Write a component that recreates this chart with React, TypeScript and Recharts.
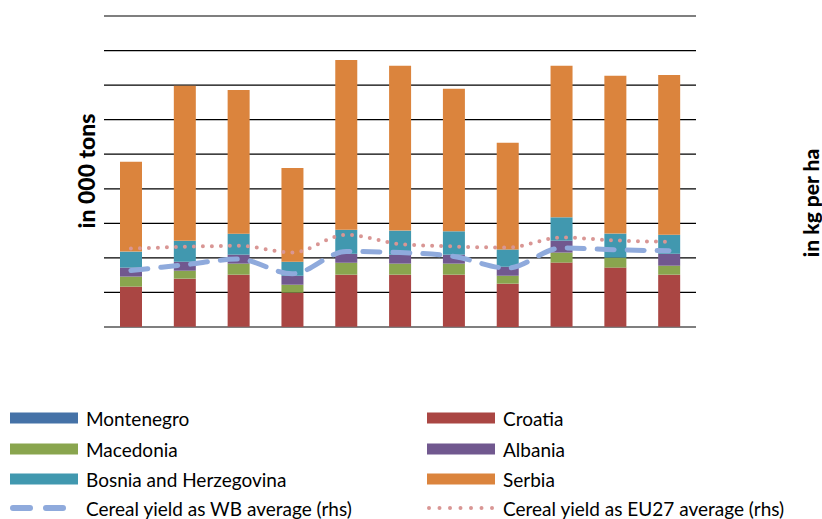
import React from "react";
import {
  ComposedChart,
  Bar,
  Line,
  XAxis,
  YAxis,
  CartesianGrid,
} from "recharts";

// cereal production, thousand tons, stacked by country
const years = ["2000", "2001", "2002", "2003", "2004", "2005", "2006", "2007", "2008", "2009", "2010"];
const montenegro = [8, 8, 8, 7, 8, 8, 8, 7, 8, 8, 8];
const croatia = [2330, 2790, 3020, 1980, 3020, 3020, 3020, 2500, 3720, 3430, 3020];
const macedonia = [580, 460, 640, 460, 690, 640, 640, 460, 580, 580, 520];
const albania = [520, 520, 520, 520, 520, 520, 520, 520, 690, 0, 690];
const bosnia = [925, 1210, 1210, 810, 1390, 1390, 1350, 1000, 1350, 1390, 1100];
const serbia = [5200, 8980, 8320, 5430, 9830, 9540, 8250, 6170, 8770, 9130, 9250];

// cereal yield, kg per ha (right axis)
const wbYield = [3270, 3600, 3930, 3080, 4370, 4310, 4080, 3410, 4570, 4470, 4410];
const euYield = [4540, 4640, 4700, 4310, 5340, 4800, 4660, 4600, 5180, 5010, 4930];

const gridTicks = [0, 2000, 4000, 6000, 8000, 10000, 12000, 14000, 16000, 18000];

const data = years.map((year, i) => ({
  year,
  montenegro: montenegro[i],
  croatia: croatia[i],
  macedonia: macedonia[i],
  albania: albania[i],
  bosnia: bosnia[i],
  serbia: serbia[i],
  wb: wbYield[i],
  eu: euYield[i],
}));

const stacks = [
  { key: "montenegro", name: "Montenegro", color: "#4572A7" },
  { key: "croatia", name: "Croatia", color: "#AA4643" },
  { key: "macedonia", name: "Macedonia", color: "#89A54E" },
  { key: "albania", name: "Albania", color: "#71588F" },
  { key: "bosnia", name: "Bosnia and Herzegovina", color: "#4198AF" },
  { key: "serbia", name: "Serbia", color: "#DB843D" },
];

const WB_COLOR = "#8FAADC";
const EU_COLOR = "#D99694";
const FONT = "Lato, 'Open Sans', sans-serif";

type LegendRow = { name: string; kind: "bar" | "wb" | "eu"; color: string };

const legendRows: LegendRow[] = [
  { name: "Montenegro", kind: "bar", color: "#4572A7" },
  { name: "Croatia", kind: "bar", color: "#AA4643" },
  { name: "Macedonia", kind: "bar", color: "#89A54E" },
  { name: "Albania", kind: "bar", color: "#71588F" },
  { name: "Bosnia and Herzegovina", kind: "bar", color: "#4198AF" },
  { name: "Serbia", kind: "bar", color: "#DB843D" },
  { name: "Cereal yield as WB average (rhs)", kind: "wb", color: WB_COLOR },
  { name: "Cereal yield as EU27 average (rhs)", kind: "eu", color: EU_COLOR },
];

function Swatch({ row }: { row: LegendRow }) {
  return (
    <svg width={68} height={12} style={{ display: "block" }}>
      {row.kind === "bar" && <rect x={0} y={0.5} width={68} height={11} fill={row.color} />}
      {row.kind === "wb" && (
        <line x1={3} y1={6} x2={68} y2={6} stroke={row.color} strokeWidth={6}
          strokeDasharray="17 16" strokeLinecap="round" />
      )}
      {row.kind === "eu" && (
        <line x1={2} y1={6} x2={66} y2={6} stroke={row.color} strokeWidth={4}
          strokeDasharray="0 10.5" strokeLinecap="round" />
      )}
    </svg>
  );
}

function ChartLegend() {
  const rowY = [418, 449, 479, 508];
  return (
    <>
      {legendRows.map((row, i) => {
        const col = i % 2;
        const r = Math.floor(i / 2);
        return (
          <div
            key={row.name}
            style={{
              position: "absolute",
              left: col === 0 ? 10 : 427,
              top: rowY[r] - 12,
              height: 24,
              display: "flex",
              alignItems: "center",
              fontFamily: FONT,
              fontSize: 19,
              color: "#000",
              whiteSpace: "nowrap",
            }}
          >
            <Swatch row={row} />
            <span style={{ marginLeft: 8 }}>{row.name}</span>
          </div>
        );
      })}
    </>
  );
}

function AxisTitle({ text, cx, cy, size }: { text: string; cx: number; cy: number; size: number }) {
  return (
    <div
      style={{
        position: "absolute",
        left: cx - 100,
        top: cy - 15,
        width: 200,
        height: 30,
        lineHeight: "30px",
        textAlign: "center",
        transform: "rotate(-90deg)",
        fontFamily: FONT,
        fontWeight: 900,
        fontSize: size,
        color: "#000",
      }}
    >
      {text}
    </div>
  );
}

const hiddenTick = () => <g />;

export default function App() {
  return (
    <div style={{ position: "absolute", left: 0, top: 0, width: 822, height: 519, background: "#fff" }}>
      <ComposedChart
        width={822}
        height={340}
        data={data}
        margin={{ top: 16, right: 126, bottom: 13, left: 104 }}
        barSize={22}
      >
        <CartesianGrid yAxisId="left" vertical={false} stroke="#000" strokeWidth={1.2} />
        <XAxis dataKey="year" hide />
        <YAxis yAxisId="left" domain={[0, 18000]} ticks={gridTicks} width={0}
          tick={hiddenTick} axisLine={false} tickLine={false} />
        <YAxis yAxisId="right" orientation="right" domain={[0, 18000]} ticks={gridTicks} width={0}
          tick={hiddenTick} axisLine={false} tickLine={false} />
        {stacks.map((s) => (
          <Bar key={s.key} yAxisId="left" dataKey={s.key} name={s.name} stackId="prod"
            fill={s.color} isAnimationActive={false} />
        ))}
        <Line yAxisId="right" type="monotone" dataKey="eu" stroke={EU_COLOR} strokeWidth={4}
          strokeDasharray="0 9" strokeLinecap="round" dot={false} isAnimationActive={false} />
        <Line yAxisId="right" type="monotone" dataKey="wb" stroke={WB_COLOR} strokeWidth={5}
          strokeDasharray="17 13" strokeLinecap="round" dot={false} isAnimationActive={false} />
      </ComposedChart>
      <AxisTitle text="in 000 tons" cx={86} cy={171} size={23} />
      <AxisTitle text="in kg per ha" cx={811} cy={203} size={21} />
      <ChartLegend />
    </div>
  );
}
